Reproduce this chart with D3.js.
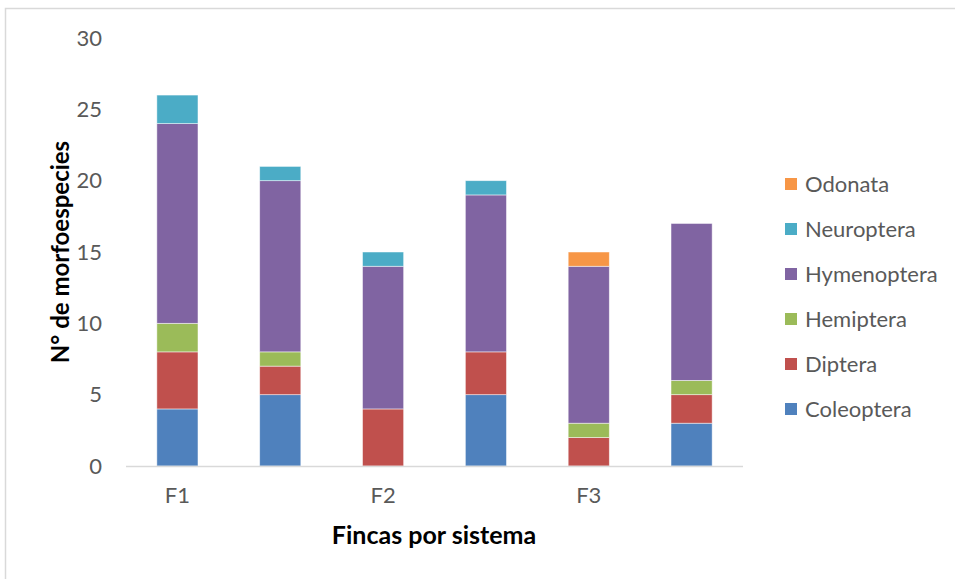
<!DOCTYPE html>
<html>
<head>
<meta charset="utf-8">
<script src="https://cdn.jsdelivr.net/npm/d3@7"></script>
<style>
  body { margin: 0; background: #fff; }
  svg text { font-family: Lato, "Open Sans", sans-serif; }
</style>
</head>
<body>
<div id="chart"></div>
<script>
const fincas = ["1", "2", "3", "4", "5", "6"];
const fincaLabels = ["F1", "", "F2", "", "F3", ""];
const orders = ["Coleoptera", "Diptera", "Hemiptera", "Hymenoptera", "Neuroptera", "Odonata"];
const colors = ["#4F81BD", "#C0504D", "#9BBB59", "#8064A2", "#4BACC6", "#F79646"];

const coleoptera  = [4, 5, 0, 5, 0, 3];
const diptera     = [4, 2, 4, 3, 2, 2];
const hemiptera   = [2, 1, 0, 0, 1, 1];
const hymenoptera = [14, 12, 10, 11, 11, 11];
const neuroptera  = [2, 1, 1, 1, 0, 0];
const odonata     = [0, 0, 0, 0, 1, 0];
const yTicks = [0, 5, 10, 15, 20, 25, 30];

const seriesValues = [coleoptera, diptera, hemiptera, hymenoptera, neuroptera, odonata];

let rows = fincas.map(function(f, i) {
  let r = {finca: f};
  orders.forEach(function(o, j) { r[o] = seriesValues[j][i]; });
  return r;
});

let width = 955, height = 579;
let svg = d3.select("#chart").append("svg")
  .attr("width", width)
  .attr("height", height);

// outer chart border
svg.append("rect")
  .attr("x", 5.5).attr("y", 8.5)
  .attr("width", 1000).attr("height", 700)
  .attr("fill", "none")
  .attr("stroke", "#d9d9d9")
  .attr("stroke-width", 1.5);

let x = d3.scaleBand().domain(fincas).range([126, 743]).paddingInner(0.6).paddingOuter(0.3);
let y = d3.scaleLinear().domain([0, 30]).range([466, 38]);
let color = d3.scaleOrdinal().domain(orders).range(colors);

let stacked = d3.stack().keys(orders)(rows);

svg.append("g")
  .selectAll("g")
  .data(stacked).enter()
  .append("g")
  .attr("fill", function(d) { return color(d.key); })
  .selectAll("rect")
  .data(function(d) { return d.filter(function(p) { return p[1] > p[0]; }); }).enter()
  .append("rect")
  .attr("x", function(d) { return x(d.data.finca); })
  .attr("width", x.bandwidth())
  .attr("y", function(d) { return y(d[1]); })
  .attr("height", function(d) { return y(d[0]) - y(d[1]); })
  .attr("stroke", "#ffffff")
  .attr("stroke-opacity", 0.6)
  .attr("stroke-width", 0.8);

// x axis line
svg.append("line")
  .attr("x1", 126).attr("x2", 743)
  .attr("y1", 466.5).attr("y2", 466.5)
  .attr("stroke", "#d9d9d9")
  .attr("stroke-width", 1.5);

// y axis labels
let yAxis = d3.axisLeft(y).tickValues(yTicks).tickSize(0).tickPadding(0);
let gy = svg.append("g").attr("transform", "translate(102,0)").call(yAxis);
gy.select(".domain").remove();
gy.selectAll("text")
  .attr("font-size", 22)
  .attr("fill", "#595959")
  .attr("font-family", "Lato, 'Open Sans', sans-serif");

// x axis labels
let xAxis = d3.axisBottom(x).tickSize(0).tickPadding(0)
  .tickFormat(function(d, i) { return fincaLabels[i]; });
let gx = svg.append("g").attr("transform", "translate(0,487)").call(xAxis);
gx.select(".domain").remove();
gx.selectAll("text")
  .attr("font-size", 22)
  .attr("fill", "#595959")
  .attr("font-family", "Lato, 'Open Sans', sans-serif");

// axis titles
svg.append("text")
  .attr("x", 434).attr("y", 544)
  .attr("text-anchor", "middle")
  .attr("font-size", 25)
  .attr("font-weight", "bold")
  .attr("fill", "#000")
  .text("Fincas por sistema");

svg.append("text")
  .attr("transform", "translate(69,252) rotate(-90)")
  .attr("text-anchor", "middle")
  .attr("font-size", 24)
  .attr("font-weight", "bold")
  .attr("fill", "#000")
  .text("N° de morfoespecies");

// legend, top entry is the last series
let legend = svg.append("g")
  .selectAll("g")
  .data(orders.slice().reverse()).enter()
  .append("g")
  .attr("transform", function(d, i) { return "translate(785," + (184 + i * 45) + ")"; });

legend.append("rect")
  .attr("x", 0).attr("y", -6)
  .attr("width", 12).attr("height", 12)
  .attr("fill", function(d) { return color(d); });

legend.append("text")
  .attr("x", 20).attr("y", 0)
  .attr("dy", "0.35em")
  .attr("font-size", 22)
  .attr("fill", "#595959")
  .text(function(d) { return d; });
</script>
</body>
</html>
